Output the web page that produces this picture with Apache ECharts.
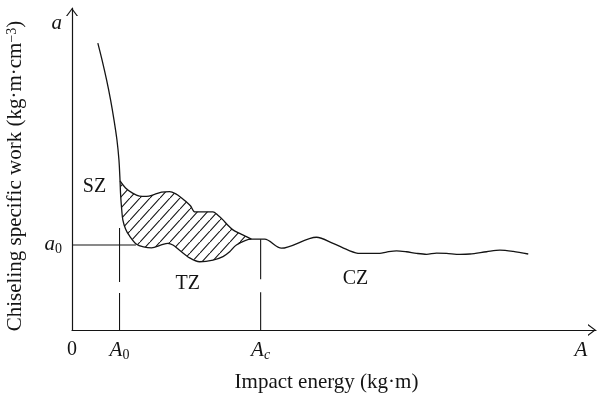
<!DOCTYPE html>
<html>
<head>
<meta charset="utf-8">
<script src="https://cdn.jsdelivr.net/npm/echarts@6/dist/echarts.min.js"></script>
<style>
  html, body { margin: 0; padding: 0; background: #fff; }
  #chart { width: 597px; height: 394px; }
</style>
</head>
<body>
<div id="chart"></div>
<script>
// Characteristic values on the axes
const A0 = 0.907;   // start of the transition zone
const Ac = 3.6;     // critical impact energy
const A_END = 9.71; // position of the "A" axis label
const a0 = 2.64;    // critical chiseling specific work
const A_TOP = 9.5;  // position of the "a" axis label

const xTickValues = [0, A0, Ac, A_END];
const xTickLabels = ['{n|0}', '{i|A}{sub|0}', '{i|A}{subi|c}', '{i|A}'];
const yTickValues = [a0, A_TOP];
const yTickLabels = ['{i|a}{sub|0}', '{i|a}'];

// Steep branch of the curve (stable zone SZ), ending where the band splits
const steepBranch = [
  [0.493, 8.91], [0.573, 8.39], [0.661, 7.76], [0.737, 7.14], [0.802, 6.52],
  [0.858, 5.90], [0.896, 5.28], [0.917, 4.63]
];

// Lower boundary of the transition band (TZ)
const lowerBand = [
  [0.917, 4.63], [0.926, 4.25], [0.946, 3.79], [0.970, 3.42], [1.022, 3.14],
  [1.098, 2.92], [1.232, 2.66], [1.366, 2.58], [1.519, 2.55], [1.704, 2.64],
  [1.830, 2.69], [1.926, 2.64], [2.053, 2.48], [2.245, 2.24], [2.436, 2.12],
  [2.690, 2.17], [2.881, 2.28], [3.009, 2.43], [3.137, 2.64], [3.423, 2.82]
];

// Upper boundary of the transition band (TZ)
const upperBand = [
  [0.917, 4.63], [1.022, 4.41], [1.156, 4.25], [1.289, 4.16], [1.423, 4.15],
  [1.576, 4.21], [1.710, 4.28], [1.862, 4.30], [1.990, 4.22], [2.092, 4.10],
  [2.181, 3.98], [2.264, 3.85], [2.340, 3.67], [2.512, 3.67], [2.690, 3.67],
  [2.779, 3.57], [2.881, 3.42], [2.970, 3.26], [3.072, 3.11], [3.200, 3.00],
  [3.328, 2.90], [3.423, 2.82]
];

// Tail of the curve (crushing zone CZ)
const crushTail = [
  [3.423, 2.82], [3.677, 2.82], [3.996, 2.54], [4.665, 2.88], [4.982, 2.69],
  [5.301, 2.46], [5.492, 2.38], [5.874, 2.38], [6.002, 2.42], [6.193, 2.46],
  [6.384, 2.43], [6.575, 2.38], [6.766, 2.35], [6.957, 2.39], [7.148, 2.38],
  [7.402, 2.35], [7.593, 2.36], [7.912, 2.43], [8.166, 2.48], [8.420, 2.44],
  [8.707, 2.36]
];

// Reference lines
const a0Guide = [[0, a0], [1.22, a0]];
const A0Guide = [[A0, 3.17], [A0, 0]];
const AcGuide = [[Ac, 2.82], [Ac, 0]];

const zoneNames = ['SZ', 'TZ', 'CZ'];

const INK = '#141414';
const SERIF = "'Liberation Serif', 'DejaVu Serif', serif";

// Diagonal hatch tile for the transition band
function makeHatch(w, h) {
  const c = document.createElement('canvas');
  c.width = w; c.height = h;
  const ctx = c.getContext('2d');
  ctx.strokeStyle = INK;
  ctx.lineWidth = 1.1;
  ctx.beginPath();
  ctx.moveTo(0, h); ctx.lineTo(w, 0);
  ctx.moveTo(-w, h); ctx.lineTo(0, 0);
  ctx.moveTo(w, 2 * h); ctx.lineTo(2 * w, h);
  ctx.stroke();
  return c;
}
const hatchTile = makeHatch(10, 11);

const labelRich = {
  n: { fontFamily: SERIF, fontSize: 20, lineHeight: 22, color: INK, verticalAlign: 'top' },
  i: { fontFamily: SERIF, fontStyle: 'italic', fontSize: 21, lineHeight: 22, color: INK, verticalAlign: 'top' },
  sub: { fontFamily: SERIF, fontSize: 14, lineHeight: 10, color: INK, verticalAlign: 'bottom' },
  subi: { fontFamily: SERIF, fontStyle: 'italic', fontSize: 14, lineHeight: 10, color: INK, verticalAlign: 'bottom' }
};

const arrowPath = 'path://M0,80 L60,0 L120,80 L106,80 L60,18.7 L14,80 Z';

const chart = echarts.init(document.getElementById('chart'), null, { renderer: 'canvas' });

const lineBase = {
  type: 'line',
  symbol: 'none',
  silent: true,
  animation: false,
  lineStyle: { color: INK, width: 1.3 }
};

chart.setOption({
  animation: false,
  backgroundColor: '#fff',
  grid: { left: 72, right: 1, top: 8, bottom: 64, outerBoundsMode: 'none', containLabel: false },
  xAxis: {
    type: 'value',
    min: 0,
    max: 10,
    name: 'Impact energy (kg·m)',
    nameLocation: 'middle',
    nameGap: 42,
    nameTextStyle: { fontFamily: SERIF, fontSize: 21, color: INK, padding: [0, 15, 0, 0] },
    axisLine: {
      lineStyle: { color: INK, width: 1.2 },
      symbol: ['none', arrowPath],
      symbolSize: [12, 8],
      symbolOffset: [0, -4]
    },
    axisTick: { show: false },
    splitLine: { show: false },
    axisLabel: {
      customValues: xTickValues,
      margin: 10,
      formatter: function (v) {
        const k = xTickValues.indexOf(v);
        return k >= 0 ? xTickLabels[k] : '';
      },
      rich: labelRich
    }
  },
  yAxis: {
    type: 'value',
    min: 0,
    max: 10,
    name: '{t|Chiseling specific work (kg·m·cm}{sup|−3}{t|)}',
    nameLocation: 'middle',
    nameGap: 45,
    nameTextStyle: {
      padding: [0, 14, 0, 0],
      rich: {
        t: { fontFamily: SERIF, fontSize: 21, lineHeight: 22, color: INK, verticalAlign: 'top' },
        sup: { fontFamily: SERIF, fontSize: 14, lineHeight: 8, color: INK, verticalAlign: 'top' }
      }
    },
    axisLine: {
      lineStyle: { color: INK, width: 1.2 },
      symbol: ['none', arrowPath],
      symbolSize: [12, 8],
      symbolOffset: [0, -4]
    },
    axisTick: { show: false },
    splitLine: { show: false },
    axisLabel: {
      customValues: yTickValues,
      margin: 10,
      formatter: function (v) {
        const k = yTickValues.indexOf(v);
        return k >= 0 ? yTickLabels[k] : '';
      },
      rich: labelRich
    }
  },
  series: [
    {
      // hatched transition band between the two boundaries
      type: 'custom',
      silent: true,
      animation: false,
      data: [0],
      z: 1,
      renderItem: function (params, api) {
        const pts = upperBand.map(p => api.coord(p))
          .concat(lowerBand.slice().reverse().map(p => api.coord(p)));
        return {
          type: 'polygon',
          shape: { points: pts, smooth: 0 },
          style: { fill: { image: hatchTile, repeat: 'repeat' }, stroke: null }
        };
      }
    },
    Object.assign({}, lineBase, {
      name: 'curve',
      smooth: 0.3,
      z: 3,
      data: steepBranch.concat(lowerBand.slice(1), crushTail.slice(1))
    }),
    Object.assign({}, lineBase, {
      name: 'upper',
      smooth: 0.3,
      z: 3,
      data: upperBand
    }),
    Object.assign({}, lineBase, {
      name: 'a0 level',
      z: 2,
      lineStyle: { color: INK, width: 1.1 },
      data: a0Guide
    }),
    Object.assign({}, lineBase, {
      name: 'A0 guide',
      z: 2,
      lineStyle: { color: INK, width: 1.1, type: [54, 11] },
      data: A0Guide
    }),
    Object.assign({}, lineBase, {
      name: 'Ac guide',
      z: 2,
      lineStyle: { color: INK, width: 1.1, type: [40, 13] },
      data: AcGuide
    }),
    {
      // zone names
      type: 'scatter',
      silent: true,
      animation: false,
      symbolSize: 0,
      z: 4,
      itemStyle: { opacity: 1 },
      label: {
        show: true,
        position: 'inside',
        fontFamily: SERIF,
        fontSize: 20,
        color: INK,
        opacity: 1,
        formatter: p => p.name
      },
      data: [
        { name: zoneNames[0], value: [0.43, 4.46] },
        { name: zoneNames[1], value: [2.21, 1.43] },
        { name: zoneNames[2], value: [5.41, 1.6] }
      ]
    }
  ]
});
</script>
</body>
</html>
